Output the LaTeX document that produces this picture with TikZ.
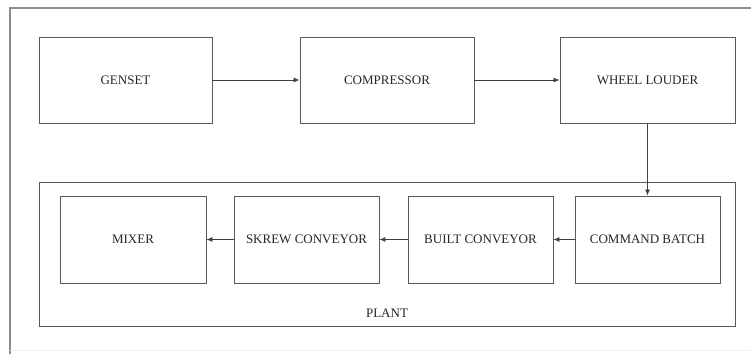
\documentclass[tikz,border=0pt]{standalone}
\usepackage{fontspec}
\setmainfont{Liberation Serif}
\usetikzlibrary{arrows.meta}
\begin{document}
\begin{tikzpicture}[x=1pt,y=-1pt,
  blk/.style={draw=black!65, line width=0.9pt, rectangle, inner sep=0pt, font=\fontsize{13}{15}\selectfont, text=black!85},
  conn/.style={draw=black!75, line width=0.8pt, -{Latex[length=6pt,width=5pt]}},
  frame/.style={draw=black!45, line width=1.6pt}]
\useasboundingbox (0,0) rectangle (751,354);
\fill[white] (0,0) rectangle (751,354);
% outer frame (clipped on right)
\draw[frame] (10,354) -- (10,8) -- (751,8);
\draw[draw=black!6, line width=1pt] (10,350) -- (751,350);
% plant container
\node[blk, minimum width=696pt, minimum height=144pt, anchor=north west] (plant) at (39,182) {};
\node[font=\fontsize{13}{15}\selectfont, text=black!85] (plantlbl) at (387,313) {PLANT};
% top row
\node[blk, minimum width=173pt, minimum height=86pt] (genset) at (125.5,80) {GENSET};
\node[blk, minimum width=174pt, minimum height=86pt] (comp) at (387,80) {COMPRESSOR};
\node[blk, minimum width=175pt, minimum height=86pt] (wheel) at (647.5,80) {WHEEL LOUDER};
% bottom row
\node[blk, minimum width=146pt, minimum height=87pt] (mixer) at (133,239.5) {MIXER};
\node[blk, minimum width=145pt, minimum height=87pt] (skrew) at (306.5,239.5) {SKREW CONVEYOR};
\node[blk, minimum width=145pt, minimum height=87pt] (built) at (480.5,239.5) {BUILT CONVEYOR};
\node[blk, minimum width=145pt, minimum height=87pt] (cmd) at (647.5,239.5) {COMMAND BATCH};
% connectors
\draw[conn] (genset) -- (comp);
\draw[conn] (comp) -- (wheel);
\draw[conn] (wheel.south) -- (cmd.north);
\draw[conn] (cmd) -- (built);
\draw[conn] (built) -- (skrew);
\draw[conn] (skrew) -- (mixer);
\end{tikzpicture}
\end{document}
